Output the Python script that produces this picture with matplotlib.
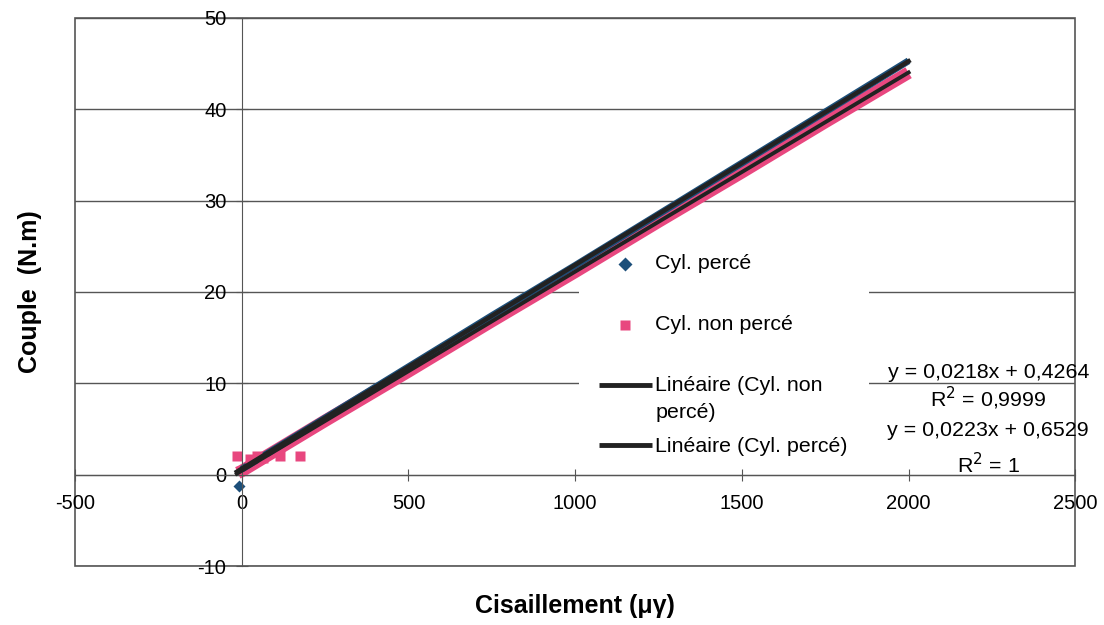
import matplotlib.pyplot as plt
from matplotlib.patches import Rectangle

plt.rcParams['font.family'] = ['Liberation Sans', 'DejaVu Sans']
plt.rcParams['axes.unicode_minus'] = False

# points
perce_x = [0, 250, 500, 750, 1000, 1250, 1500, 1750, 2000]
perce_y = [0.6, 6.2, 11.8, 17.4, 22.9, 28.5, 34.1, 39.7, 45.3]
perce_low_x = [-8]
perce_low_y = [-1.2]
nonperce_x = [-12, 0, 250, 500, 750, 1000, 1250, 1500, 1750, 2000]
nonperce_y = [0.2, 0.4, 5.9, 11.3, 16.8, 22.2, 27.7, 33.1, 38.6, 44.0]
nonperce_low_x = [-14, 25, 45, 65, 114, 174]
nonperce_low_y = [2.0, 1.7, 2.0, 1.8, 2.0, 2.0]

# trendline coefficients as printed on the chart
fit_nonperce = (0.0218, 0.4264)
fit_perce = (0.0223, 0.6529)
fit_x = [-15, 2000]

xticks = [-500, 0, 500, 1000, 1500, 2000, 2500]
yticks = [-10, 0, 10, 20, 30, 40, 50]

blue = '#1c4f7a'
pink = '#e8477f'
dark = '#222222'
grid = '#555555'

fig = plt.figure(figsize=(11.04, 6.25), dpi=100)
ax = fig.add_axes([0.068, 0.0944, 0.906, 0.877])
ax.set_xlim(-500, 2500)
ax.set_ylim(-10, 50)


def px(x, y):
    # pixel of the picture -> axes fraction
    return (x - 75) / 1000.0, (566 - y) / 548.0


for yv in yticks:
    ax.axhline(yv, color=grid, lw=1.0, zorder=1)

for s in ['top', 'right']:
    ax.spines[s].set_visible(False)
ax.spines['left'].set_position(('data', 0))
ax.spines['bottom'].set_position(('data', 0))
ax.spines['left'].set_color(grid)
ax.spines['bottom'].set_color(grid)
ax.spines['left'].set_linewidth(0.8)
ax.add_patch(Rectangle((0, 0), 1, 1, transform=ax.transAxes, fill=False,
                       edgecolor=grid, lw=1.2, zorder=1, clip_on=False))

ax.set_xticks(xticks)
ax.set_yticks(yticks)
ax.tick_params(axis='x', direction='inout', length=8, color=grid, labelsize=14.5, pad=10)
ax.tick_params(axis='y', direction='inout', length=8, color=grid, labelsize=14.5, pad=7)

# legend box sits under the series, as in the source chart
x0, y0 = px(579, 470)
x1, y1 = px(869, 240)
ax.add_patch(Rectangle((x0, y0), x1 - x0, y1 - y0, transform=ax.transAxes,
                       facecolor='white', edgecolor='none', zorder=1.5))

# dense data bands
ax.plot(nonperce_x, nonperce_y, color=pink, lw=9, solid_capstyle='butt', zorder=2)
ax.plot(perce_x, perce_y, color=blue, lw=5, solid_capstyle='butt', zorder=2)
ax.plot(nonperce_low_x, nonperce_low_y, 's', color=pink, ms=7, mec='none', zorder=2)
ax.plot(perce_low_x, perce_low_y, 'D', color=blue, ms=6, mec='none', zorder=2)

# trendlines
ax.plot(fit_x, [fit_nonperce[0] * v + fit_nonperce[1] for v in fit_x], color=dark, lw=2.8, zorder=3)
ax.plot(fit_x, [fit_perce[0] * v + fit_perce[1] for v in fit_x], color=dark, lw=3.2, zorder=3)

# legend entries
ax.plot(*px(625, 264), 'D', color=blue, ms=7, mec='none', transform=ax.transAxes, zorder=5)
ax.plot(*px(625, 325), 's', color=pink, ms=7, mec='none', transform=ax.transAxes, zorder=5)
for yy in [385, 445]:
    (a, b), (c, d) = px(599, yy), px(652, yy)
    ax.plot([a, c], [b, d], color=dark, lw=3.5, transform=ax.transAxes,
            solid_capstyle='butt', zorder=5)
leg_text = [('Cyl. percé', 264), ('Cyl. non percé', 325),
            ('Linéaire (Cyl. non', 386), ('percé)', 413), ('Linéaire (Cyl. percé)', 447)]
for t, yy in leg_text:
    ax.text(*px(655, yy), t, transform=ax.transAxes, ha='left', va='center',
            fontsize=15.4, zorder=6)

eq_text = [('y = 0,0218x + 0,4264', 373), ('R$^2$ = 0,9999', 398),
           ('y = 0,0223x + 0,6529', 431), ('R$^2$ = 1', 465)]
for t, yy in eq_text:
    ax.text(*px(988, yy), t, transform=ax.transAxes, ha='center', va='center',
            fontsize=15.4, zorder=6)

ax.set_xlabel('Cisaillement (μγ)', fontsize=18, fontweight='bold')
ax.set_ylabel('Couple  (N.m)', fontsize=18, fontweight='bold')
ax.xaxis.set_label_coords(*px(575, 606))
ax.yaxis.set_label_coords(*px(30, 292))
ax.xaxis.label.set_va('center')
ax.yaxis.label.set_va('center')

fig.savefig('out.png', dpi=100)
